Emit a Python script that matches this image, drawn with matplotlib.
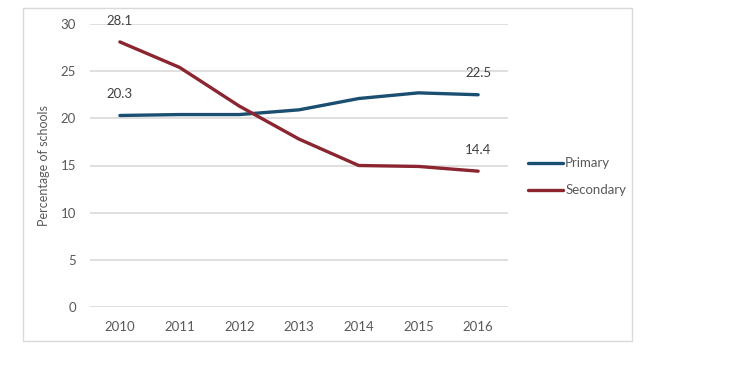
import matplotlib.pyplot as plt
from matplotlib.patches import Rectangle

# data
years = ["2010", "2011", "2012", "2013", "2014", "2015", "2016"]
primary = [20.3, 20.4, 20.4, 20.9, 22.1, 22.7, 22.5]
secondary = [28.1, 25.4, 21.3, 17.8, 15.0, 14.9, 14.4]
labelled = [0, 6]  # points that carry a value label

plt.rcParams['font.family'] = ['Lato', 'DejaVu Sans']
text_col = "#595959"
blue = "#1B4F72"
red = "#8B2530"

fig = plt.figure(figsize=(7.49, 3.68), dpi=100)
fig.patches.append(Rectangle((23 / 749, 1 - 341 / 368), 609 / 749, 333 / 368,
                             transform=fig.transFigure, fill=False,
                             edgecolor="#D9D9D9", linewidth=1))

ax = fig.add_axes([90 / 749, 1 - 307 / 368, 418 / 749, 283 / 368])
x = range(len(years))
ax.plot(x, primary, color=blue, linewidth=2.4, label="Primary", solid_capstyle="round")
ax.plot(x, secondary, color=red, linewidth=2.4, label="Secondary", solid_capstyle="round")

for i in labelled:
    for vals in (primary, secondary):
        ax.annotate(f"{vals[i]}", (i, vals[i]), xytext=(0, 11), textcoords="offset points",
                    ha="center", va="bottom", fontsize=9.5, color="#404040")

ax.set_xlim(-0.5, len(years) - 0.5)
ax.set_ylim(0, 30)
ax.set_yticks(range(0, 31, 5))
ax.set_xticks(list(x))
ax.set_xticklabels(years)
ax.grid(axis="y", color="#D9D9D9", linewidth=1.2)
ax.set_axisbelow(True)
for s in ax.spines.values():
    s.set_visible(False)
ax.tick_params(length=0, labelsize=9.5, colors=text_col, pad=10)
ax.tick_params(axis="x", pad=10)
ax.set_ylabel("Percentage of schools", fontsize=9, color=text_col, labelpad=8)

ax.legend(loc="center left", bbox_to_anchor=(1.02, 0.46), frameon=False,
          fontsize=9.5, labelcolor=text_col, handlelength=2.6, handletextpad=0.2,
          labelspacing=1.15)

fig.savefig("out.png", dpi=100)
